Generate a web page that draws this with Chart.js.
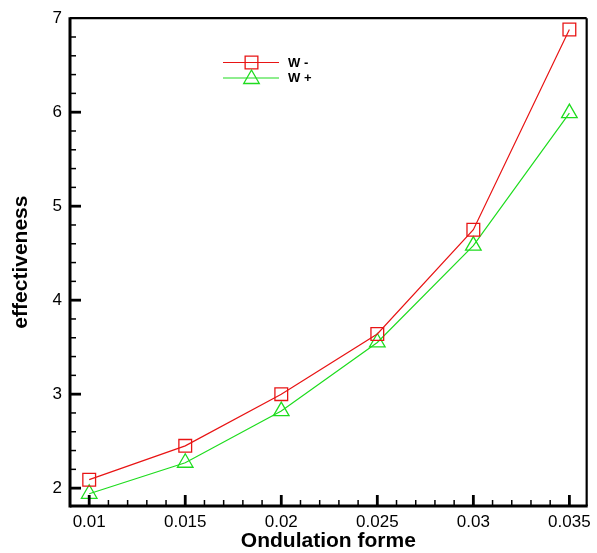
<!DOCTYPE html>
<html>
<head>
<meta charset="utf-8">
<script src="https://cdn.jsdelivr.net/npm/chart.js@4/dist/chart.umd.min.js"></script>
<style>
    html, body { margin: 0; padding: 0; background: #fff; }
    #wrap { width: 597px; height: 553px; }
</style>
</head>
<body>
<div id="wrap"><canvas id="effChart"></canvas></div>
<script>
const ondulation = [0.01, 0.015, 0.02, 0.025, 0.03, 0.035];
const wMinus = [2.09, 2.45, 3.0, 3.64, 4.75, 6.88];
const wPlus = [1.94, 2.27, 2.82, 3.55, 4.58, 5.99];
const xTicks = [0.01, 0.015, 0.02, 0.025, 0.03, 0.035];
const yTicks = [2, 3, 4, 5, 6, 7];

const RED = 'rgb(232, 20, 20)';
const GREEN = 'rgb(30, 220, 30)';

function toPoints(xs, ys) {
    return xs.map((x, i) => ({x: x, y: ys[i]}));
}

// frame + inward ticks, tecplot style
const framePlugin = {
    id: 'frame',
    afterDraw(chart) {
        const {ctx, chartArea: a, scales: {x, y}} = chart;
        ctx.save();
        ctx.strokeStyle = '#000';
        ctx.lineCap = 'butt';

        const tick = (x1, y1, x2, y2, w) => {
            ctx.lineWidth = w;
            ctx.beginPath();
            ctx.moveTo(x1, y1);
            ctx.lineTo(x2, y2);
            ctx.stroke();
        };

        // minor ticks
        for (let v = 0.009; v <= x.max + 1e-9; v += 0.001) {
            const px = x.getPixelForValue(v);
            if (px > a.left + 2 && px < a.right - 2) tick(px, a.bottom, px, a.bottom - 6, 1.5);
        }
        for (let v = 1.8; v <= y.max + 1e-9; v += 0.2) {
            const py = y.getPixelForValue(v);
            if (py > a.top + 2 && py < a.bottom - 2) tick(a.left, py, a.left + 6, py, 1.5);
        }
        // major ticks
        xTicks.forEach(v => {
            const px = x.getPixelForValue(v);
            tick(px, a.bottom, px, a.bottom - 11, 2.8);
        });
        yTicks.forEach(v => {
            const py = y.getPixelForValue(v);
            if (py > a.top + 2) tick(a.left, py, a.left + 11, py, 2.8);
        });

        // frame
        tick(a.left, a.top, a.right, a.top, 2.2);
        tick(a.right, a.top, a.right, a.bottom, 2.2);
        tick(a.left, a.top - 1, a.left, a.bottom + 1.5, 3);
        tick(a.left, a.bottom, a.right + 1, a.bottom, 3);

        // legend
        const items = chart.data.datasets;
        ctx.font = 'bold 13px "Liberation Sans", Arial, sans-serif';
        ctx.textBaseline = 'middle';
        ctx.textAlign = 'left';
        items.forEach((ds, i) => {
            const ly = 62.5 + i * 15.5;
            ctx.strokeStyle = ds.borderColor;
            tick(223, ly, 279, ly, 1.2);
            ctx.fillStyle = 'rgba(0,0,0,0)';
            ctx.lineWidth = ds.pointBorderWidth;
            Chart.helpers.drawPoint(ctx, {
                pointStyle: ds.pointStyle,
                radius: ds.pointRadius,
                borderWidth: ds.pointBorderWidth,
                rotation: 0
            }, 251.5, i === 1 ? ly + 1 : ly);
            ctx.fillStyle = '#000';
            ctx.fillText(ds.label, 288, ly + 0.5);
        });
        ctx.restore();
    }
};

document.addEventListener('DOMContentLoaded', () => {
    const data = {
        datasets: [
            {
                label: 'W -',
                data: toPoints(ondulation, wMinus),
                borderColor: RED,
                backgroundColor: 'transparent',
                borderWidth: 1.2,
                pointStyle: 'rect',
                pointRadius: 9,
                pointBorderWidth: 1.3,
                pointBorderColor: RED,
                pointBackgroundColor: 'transparent'
            },
            {
                label: 'W +',
                data: toPoints(ondulation, wPlus),
                borderColor: GREEN,
                backgroundColor: 'transparent',
                borderWidth: 1.2,
                pointStyle: 'triangle',
                pointRadius: 9,
                pointBorderWidth: 1.3,
                pointBorderColor: GREEN,
                pointBackgroundColor: 'transparent'
            }
        ]
    };

    const tickFont = {family: '"Liberation Sans", Arial, sans-serif', size: 17};
    const titleFont = {family: '"Liberation Sans", Arial, sans-serif', size: 21, weight: 'bold', lineHeight: 1.1};

    new Chart(document.querySelector('#effChart'), {
        type: 'line',
        data: data,
        options: {
            responsive: true,
            maintainAspectRatio: false,
            animation: false,
            layout: {padding: {top: 16, right: 5, left: 0, bottom: 0}},
            plugins: {
                legend: {display: false},
                tooltip: {enabled: false}
            },
            scales: {
                x: {
                    type: 'linear',
                    min: 0.009,
                    max: 0.0359,
                    afterBuildTicks: scale => {
                        scale.ticks = xTicks.map(v => ({value: v}));
                    },
                    afterFit: scale => { scale.height = 47; },
                    grid: {display: false, drawTicks: false},
                    border: {display: false},
                    ticks: {
                        color: '#000',
                        font: tickFont,
                        padding: 6,
                        maxRotation: 0,
                        autoSkip: false,
                        callback: v => String(v)
                    },
                    title: {
                        display: true,
                        text: 'Ondulation forme',
                        color: '#000',
                        font: titleFont,
                        padding: {top: 0, bottom: 0}
                    }
                },
                y: {
                    type: 'linear',
                    min: 1.81,
                    max: 7,
                    afterBuildTicks: scale => {
                        scale.ticks = yTicks.map(v => ({value: v}));
                    },
                    afterFit: scale => { scale.width = 70; },
                    grid: {display: false, drawTicks: false},
                    border: {display: false},
                    ticks: {
                        color: '#000',
                        font: tickFont,
                        padding: 8,
                        autoSkip: false,
                        callback: v => String(v)
                    },
                    title: {
                        display: true,
                        text: 'effectiveness',
                        color: '#000',
                        font: titleFont,
                        padding: {top: 9.5, bottom: 0}
                    }
                }
            }
        },
        plugins: [framePlugin]
    });
});
</script>
</body>
</html>
